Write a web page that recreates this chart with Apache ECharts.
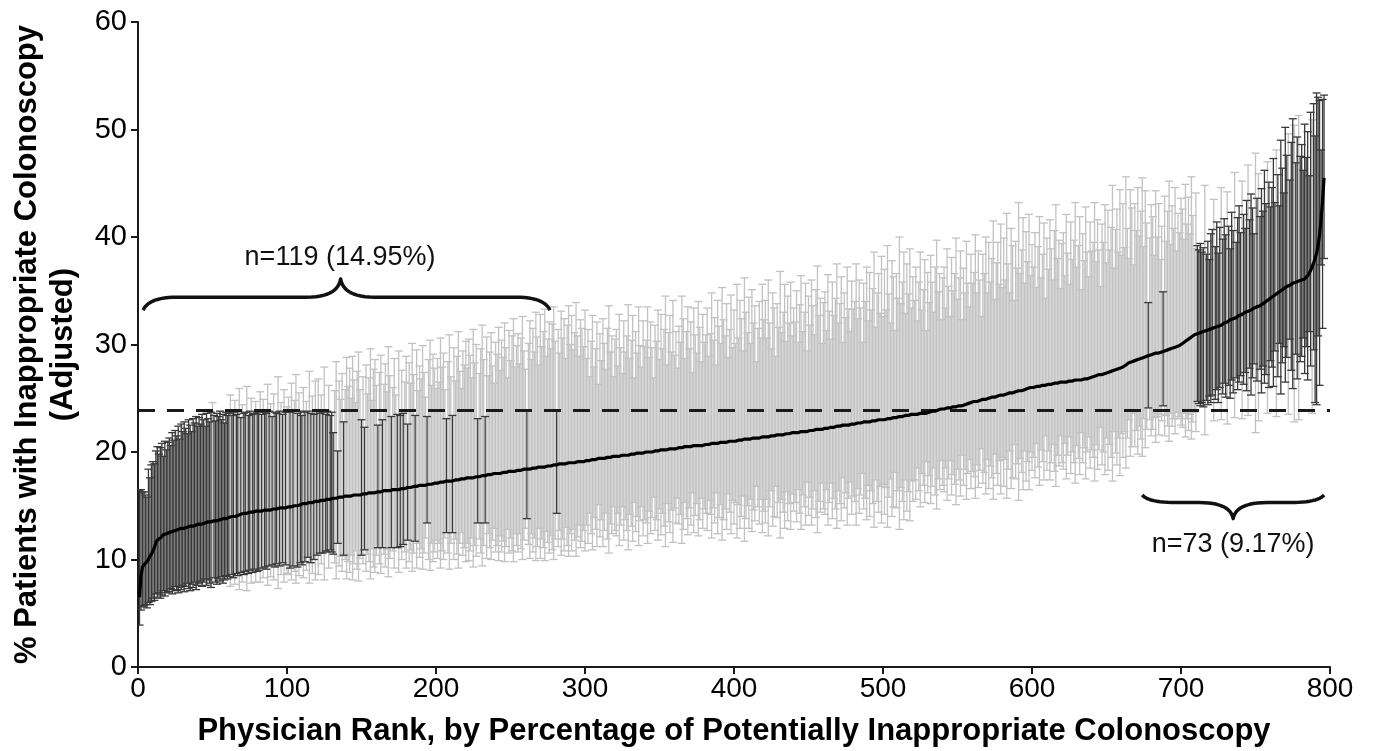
<!DOCTYPE html>
<html><head><meta charset="utf-8">
<script src="https://cdn.jsdelivr.net/npm/echarts@6.0.0/dist/echarts.min.js"></script>
<style>html,body{margin:0;padding:0;background:#fff}#c{width:1374px;height:751px}</style>
</head><body><div id="c"></div>
<script>
// Adjusted % of potentially inappropriate colonoscopy per physician, ordered by rank (1..796)
const estimate = [
6.5,8.5,9.3,9.5,9.6,9.8,10.0,10.3,10.5,10.8,11.1,11.6,11.8,11.9,12.0,12.1,12.3,12.3,12.4,12.5,
12.5,12.6,12.6,12.7,12.7,12.8,12.8,12.8,12.9,12.9,12.9,13.0,13.0,13.0,13.1,13.1,13.1,13.2,13.2,13.2,
13.3,13.3,13.3,13.4,13.4,13.4,13.5,13.5,13.5,13.6,13.6,13.6,13.6,13.7,13.7,13.7,13.8,13.8,13.8,13.9,
13.9,13.9,14.0,14.0,14.0,14.1,14.1,14.2,14.2,14.2,14.3,14.3,14.3,14.3,14.4,14.4,14.4,14.4,14.5,14.5,
14.5,14.5,14.5,14.5,14.6,14.6,14.6,14.6,14.6,14.7,14.7,14.7,14.7,14.7,14.8,14.8,14.8,14.8,14.8,14.8,
14.9,14.9,14.9,15.0,15.0,15.0,15.0,15.1,15.1,15.1,15.2,15.2,15.2,15.3,15.3,15.3,15.3,15.4,15.4,15.4,
15.4,15.5,15.5,15.5,15.5,15.6,15.6,15.6,15.6,15.6,15.7,15.7,15.7,15.7,15.8,15.8,15.8,15.8,15.9,15.9,
15.9,15.9,15.9,15.9,16.0,16.0,16.0,16.0,16.0,16.0,16.1,16.1,16.1,16.1,16.2,16.2,16.2,16.2,16.2,16.3,
16.3,16.3,16.3,16.3,16.4,16.4,16.4,16.4,16.4,16.5,16.5,16.5,16.5,16.5,16.5,16.5,16.6,16.6,16.6,16.6,
16.7,16.7,16.7,16.7,16.8,16.8,16.8,16.8,16.9,16.9,16.9,16.9,16.9,17.0,17.0,17.0,17.0,17.0,17.1,17.1,
17.1,17.1,17.2,17.2,17.2,17.2,17.3,17.3,17.3,17.3,17.3,17.4,17.4,17.4,17.4,17.5,17.5,17.5,17.5,17.5,
17.6,17.6,17.6,17.6,17.6,17.7,17.7,17.7,17.7,17.7,17.8,17.8,17.8,17.8,17.9,17.9,17.9,17.9,18.0,18.0,
18.0,18.0,18.0,18.1,18.1,18.1,18.1,18.1,18.2,18.2,18.2,18.2,18.2,18.3,18.3,18.3,18.3,18.3,18.4,18.4,
18.4,18.4,18.4,18.5,18.5,18.5,18.5,18.5,18.6,18.6,18.6,18.6,18.6,18.7,18.7,18.7,18.7,18.8,18.8,18.8,
18.8,18.8,18.9,18.9,18.9,18.9,18.9,19.0,19.0,19.0,19.0,19.0,19.0,19.1,19.1,19.1,19.1,19.1,19.1,19.2,
19.2,19.2,19.2,19.3,19.3,19.3,19.3,19.3,19.4,19.4,19.4,19.4,19.4,19.5,19.5,19.5,19.5,19.5,19.6,19.6,
19.6,19.6,19.6,19.6,19.7,19.7,19.7,19.7,19.7,19.8,19.8,19.8,19.8,19.8,19.9,19.9,19.9,19.9,19.9,19.9,
20.0,20.0,20.0,20.0,20.0,20.1,20.1,20.1,20.1,20.1,20.2,20.2,20.2,20.2,20.2,20.3,20.3,20.3,20.3,20.3,
20.3,20.4,20.4,20.4,20.4,20.4,20.5,20.5,20.5,20.5,20.5,20.5,20.6,20.6,20.6,20.6,20.6,20.6,20.6,20.7,
20.7,20.7,20.7,20.7,20.8,20.8,20.8,20.8,20.8,20.8,20.9,20.9,20.9,20.9,20.9,21.0,21.0,21.0,21.0,21.0,
21.0,21.1,21.1,21.1,21.1,21.1,21.2,21.2,21.2,21.2,21.2,21.3,21.3,21.3,21.3,21.3,21.3,21.4,21.4,21.4,
21.4,21.4,21.4,21.5,21.5,21.5,21.5,21.5,21.6,21.6,21.6,21.6,21.6,21.7,21.7,21.7,21.7,21.7,21.8,21.8,
21.8,21.8,21.8,21.8,21.9,21.9,21.9,21.9,21.9,22.0,22.0,22.0,22.0,22.0,22.1,22.1,22.1,22.1,22.1,22.1,
22.2,22.2,22.2,22.2,22.3,22.3,22.3,22.3,22.4,22.4,22.4,22.4,22.5,22.5,22.5,22.5,22.5,22.6,22.6,22.6,
22.6,22.6,22.7,22.7,22.7,22.7,22.8,22.8,22.8,22.8,22.8,22.9,22.9,22.9,22.9,22.9,23.0,23.0,23.0,23.0,
23.0,23.1,23.1,23.1,23.1,23.2,23.2,23.2,23.2,23.3,23.3,23.3,23.3,23.3,23.4,23.4,23.4,23.4,23.5,23.5,
23.5,23.5,23.5,23.5,23.6,23.6,23.6,23.6,23.6,23.7,23.7,23.7,23.8,23.8,23.8,23.9,23.9,23.9,24.0,24.0,
24.0,24.0,24.1,24.1,24.1,24.1,24.2,24.2,24.2,24.2,24.3,24.3,24.3,24.3,24.4,24.4,24.5,24.5,24.6,24.6,
24.7,24.7,24.7,24.8,24.8,24.8,24.9,24.9,24.9,25.0,25.0,25.0,25.1,25.1,25.1,25.2,25.2,25.2,25.3,25.3,
25.3,25.4,25.4,25.4,25.5,25.5,25.5,25.6,25.6,25.6,25.7,25.7,25.7,25.8,25.8,25.8,25.9,25.9,26.0,26.0,
26.0,26.0,26.1,26.1,26.1,26.1,26.2,26.2,26.2,26.2,26.3,26.3,26.3,26.3,26.4,26.4,26.4,26.4,26.5,26.5,
26.5,26.5,26.5,26.6,26.6,26.6,26.6,26.6,26.7,26.7,26.7,26.7,26.7,26.8,26.8,26.8,26.8,26.9,26.9,27.0,
27.0,27.0,27.1,27.1,27.2,27.2,27.2,27.3,27.3,27.4,27.4,27.5,27.5,27.6,27.6,27.7,27.7,27.8,27.8,27.9,
27.9,28.0,28.1,28.2,28.3,28.4,28.4,28.5,28.5,28.6,28.6,28.7,28.7,28.8,28.8,28.9,28.9,29.0,29.0,29.1,
29.1,29.1,29.2,29.2,29.2,29.3,29.3,29.4,29.4,29.5,29.5,29.6,29.6,29.7,29.7,29.8,29.8,29.9,29.9,30.0,
30.1,30.2,30.3,30.4,30.5,30.6,30.7,30.8,30.9,31.0,31.0,31.1,31.1,31.2,31.2,31.3,31.3,31.4,31.4,31.5,
31.5,31.6,31.6,31.7,31.7,31.8,31.8,31.9,32.0,32.0,32.1,32.2,32.3,32.3,32.4,32.5,32.5,32.6,32.7,32.8,
32.8,32.9,33.0,33.0,33.1,33.2,33.2,33.3,33.4,33.4,33.5,33.6,33.6,33.7,33.8,33.9,34.0,34.1,34.2,34.3,
34.4,34.5,34.6,34.7,34.8,34.9,35.0,35.1,35.2,35.3,35.4,35.5,35.5,35.6,35.7,35.8,35.8,35.9,35.9,36.0,
36.0,36.1,36.1,36.2,36.4,36.6,36.9,37.2,37.6,38.0,38.5,39.2,40.2,41.6,43.4,45.5
];
// Upper 95% confidence limits
const upper = [
16.4,16.5,16.2,16.3,16.0,15.8,18.4,17.6,18.8,19.1,18.9,20.1,20.5,19.8,20.4,20.8,19.6,21.0,20.2,20.9,
21.3,20.6,21.8,21.1,22.0,21.5,22.4,21.2,22.6,21.9,22.8,22.2,21.7,23.0,22.5,21.9,23.1,22.7,23.3,22.4,
23.2,22.6,23.5,23.0,22.4,23.6,23.1,22.8,23.7,24.6,23.4,22.9,23.6,23.3,23.8,23.0,23.5,22.7,23.7,23.4,
23.6,25.3,23.4,23.7,24.8,23.5,23.8,25.9,23.2,24.4,23.6,23.7,26.1,23.4,23.8,25.0,23.5,23.6,24.7,23.7,
23.8,25.6,23.5,24.9,23.7,23.6,26.3,23.8,24.5,23.3,25.4,23.7,23.6,27.0,23.8,24.6,23.5,25.8,23.7,24.2,
25.1,23.7,26.4,23.8,24.8,27.2,23.6,25.5,23.8,23.4,26.0,23.7,24.7,23.8,27.5,23.6,25.2,23.5,26.6,23.8,
26.8,23.6,25.3,23.7,27.9,23.5,23.8,26.2,23.4,23.7,21.8,25.7,28.4,20.1,26.6,24.9,27.3,22.8,25.8,28.8,
26.1,27.8,25.0,28.9,26.7,24.6,27.5,29.3,25.8,23.0,27.0,22.3,28.1,25.4,26.9,29.6,24.8,27.7,28.6,26.2,
22.5,27.4,29.0,23.0,26.3,28.2,25.6,29.8,27.1,23.3,26.0,28.7,25.3,23.5,29.4,23.4,27.6,23.6,26.5,28.9,
22.6,28.3,26.4,30.1,27.2,23.4,29.5,25.7,28.0,26.8,29.9,27.4,25.1,23.3,28.6,30.4,26.2,29.1,27.8,25.9,
28.7,26.5,30.6,27.9,29.2,25.8,23.1,28.4,30.9,27.0,23.4,29.7,26.6,28.9,31.2,27.5,25.9,29.4,28.1,30.3,
27.8,30.5,29.0,26.9,31.4,28.3,30.0,23.1,27.3,29.6,31.8,28.6,23.3,30.7,27.1,29.3,31.1,28.0,26.4,30.2,
29.1,31.6,27.6,30.4,28.8,32.0,29.7,26.9,31.3,28.5,30.8,32.4,27.9,29.9,31.0,28.2,30.6,32.6,29.4,27.7,
23.8,30.1,32.2,28.6,31.5,29.3,33.0,30.7,28.1,32.8,29.8,31.2,33.3,28.9,30.5,32.1,29.6,31.9,33.5,30.3,
23.8,31.4,29.2,33.1,30.6,32.4,28.7,31.8,33.6,30.0,32.7,29.5,31.1,33.9,30.8,28.9,32.3,31.5,29.8,33.2,
28.7,31.4,27.0,30.3,32.7,27.9,29.6,32.1,26.3,31.0,28.5,32.4,30.1,27.7,31.5,33.6,29.3,30.8,27.0,30.5,
31.4,28.0,32.8,29.7,27.3,32.2,29.3,30.8,33.7,28.7,30.4,32.7,26.9,31.2,29.2,33.5,29.9,27.9,32.2,29.8,
30.4,33.5,28.8,32.1,29.7,26.9,31.8,30.3,33.2,28.6,32.8,29.6,31.4,34.5,28.1,31.1,32.7,29.3,34.1,29.0,
31.2,27.8,31.7,30.2,34.5,32.4,28.7,31.2,33.5,29.6,32.1,27.4,33.4,30.9,29.2,34.0,31.6,28.4,32.8,30.2,
30.9,33.4,28.9,31.0,34.8,30.4,32.5,28.1,34.1,31.7,30.1,35.3,32.3,30.8,33.8,28.8,31.4,34.6,29.7,33.2,
30.1,35.6,30.6,34.1,32.4,29.4,36.2,33.0,31.1,34.4,30.1,35.1,32.0,33.6,28.4,31.5,34.0,30.6,35.6,32.3,
34.1,30.6,36.0,32.0,29.6,34.8,33.4,28.9,33.8,31.6,36.8,31.1,33.0,35.6,30.3,34.5,32.0,35.8,30.8,33.4,
32.1,35.0,30.2,33.7,36.4,31.2,33.0,35.7,29.4,34.5,31.8,36.0,33.6,30.9,35.1,37.3,32.7,34.3,30.1,33.9,
34.9,31.3,36.5,33.1,30.5,35.8,32.7,34.3,37.5,32.0,33.8,36.3,30.2,34.8,32.5,37.2,33.3,31.2,35.9,33.3,
34.0,37.5,32.4,36.0,33.4,30.2,35.7,34.0,37.2,32.2,36.7,33.2,35.2,38.6,31.6,34.8,36.6,32.9,38.2,32.6,
37.0,33.2,39.2,34.7,32.0,37.8,36.3,31.3,36.6,34.3,40.0,33.8,35.8,38.6,32.9,37.5,34.7,38.9,33.4,36.3,
34.1,37.2,32.2,35.8,38.6,33.2,35.1,37.9,31.3,36.7,33.9,38.3,35.8,33.0,37.2,39.7,34.9,36.6,32.3,36.2,
37.2,33.4,38.9,35.4,32.6,38.1,35.0,36.6,39.9,34.2,36.2,38.7,32.3,37.1,34.8,39.6,35.7,33.5,38.4,35.7,
36.7,40.2,34.8,38.7,36.0,32.6,38.4,36.6,40.0,34.8,39.5,35.8,38.0,41.5,34.2,37.6,39.5,35.6,41.2,35.3,
39.9,36.0,42.2,37.5,34.8,40.8,39.2,34.1,39.6,37.1,43.2,36.6,38.8,41.8,35.7,40.5,37.7,42.1,36.4,39.3,
37.2,40.4,35.3,39.1,41.9,36.2,38.4,41.3,34.3,39.9,37.0,41.6,38.9,36.0,40.6,43.0,38.0,39.7,35.2,39.4,
40.4,36.4,42.1,38.5,35.6,41.4,37.9,39.7,43.2,37.2,39.2,41.9,35.1,40.3,37.8,42.8,38.6,36.3,41.4,38.7,
39.5,43.2,37.7,41.6,38.8,35.4,41.2,39.5,43.0,37.6,42.5,38.8,40.9,44.8,37.1,40.7,42.6,38.6,44.4,38.3,
43.1,39.0,45.6,40.8,38.0,44.4,42.7,37.4,43.1,40.6,44.6,40.1,42.4,45.5,39.1,44.3,41.3,33.9,39.9,43.0,
41.9,38.3,44.3,40.0,43.1,37.9,41.0,34.9,43.8,39.6,42.4,45.2,39.3,42.9,40.8,44.6,38.7,42.2,40.4,43.6,
42.6,39.8,44.9,41.2,43.7,40.3,45.6,42.0,38.9,44.1,39.2,38.8,39.4,38.6,39.0,44.8,38.4,39.6,37.9,40.3,
40.7,43.5,39.1,41.4,38.5,40.9,44.6,39.8,41.7,40.2,44.2,41.0,38.9,42.3,40.6,46.0,39.5,41.8,42.9,40.4,
45.2,42.1,40.8,43.4,46.7,41.6,44.0,42.7,40.3,47.8,43.6,45.9,41.9,44.5,42.4,46.2,43.1,47.0,45.1,42.8,
44.6,47.3,43.2,48.1,45.8,42.9,49.0,46.4,44.1,50.2,47.6,49.6,45.3,48.8,51.0,50.4,46.9,49.3,51.3,47.5,
48.6,46.2,50.5,47.4,49.8,45.7,51.6,50.9,52.4,49.4,53.4,53.0,52.7,48.1,52.8,53.2
];
// Lower 95% confidence limits
const lower = [
3.9,5.3,5.6,5.7,5.8,5.5,6.0,5.8,6.1,6.4,6.2,6.8,6.5,6.9,6.4,6.7,7.1,6.6,6.9,7.0,
7.0,7.3,6.8,7.2,7.5,7.1,6.9,7.4,7.2,7.6,7.0,7.5,7.8,7.3,7.1,7.7,7.4,7.9,7.2,7.6,
7.8,8.0,7.5,7.9,8.2,7.6,8.1,7.8,7.4,8.0,8.3,7.9,7.7,8.2,8.0,8.4,7.8,8.1,8.5,8.2,
8.4,7.5,8.6,8.3,7.7,8.7,8.5,7.2,8.8,7.9,8.6,8.9,7.1,8.7,9.0,7.8,8.8,9.1,7.9,8.9,
9.0,7.9,9.2,8.3,9.3,9.1,7.6,9.4,8.4,9.5,8.1,9.3,9.6,7.3,9.4,8.6,9.7,7.9,9.5,8.7,
8.6,9.2,8.1,9.4,8.9,7.8,9.3,8.5,9.7,9.5,8.3,9.8,9.0,10.2,7.8,9.7,8.7,10.0,8.1,10.4,
8.6,10.6,9.6,10.6,8.1,10.8,10.7,9.2,10.9,10.7,10.5,9.7,8.2,11.5,9.4,10.3,8.9,10.4,10.0,8.2,
9.8,8.8,10.4,8.1,9.6,10.8,9.1,8.0,10.1,10.4,9.6,10.9,8.9,10.5,9.8,8.2,11.0,9.3,8.8,10.4,
11.1,9.6,8.7,11.1,10.5,9.3,10.9,8.4,10.1,11.1,10.8,9.2,11.2,11.1,8.8,11.2,10.0,11.4,10.7,9.2,
11.8,9.8,10.9,8.9,10.6,11.7,9.2,11.5,10.2,11.0,9.1,10.6,12.0,13.4,10.0,9.0,11.5,9.8,10.7,11.8,
10.1,11.5,9.2,10.8,10.0,12.0,12.5,10.6,9.1,11.5,12.5,10.0,11.9,10.5,9.2,11.5,12.5,10.4,11.1,9.8,
11.5,9.9,10.8,12.0,9.3,11.3,10.3,13.4,11.9,10.6,9.4,11.3,13.4,10.1,12.4,11.1,10.0,11.8,12.9,10.7,
11.3,9.9,12.2,10.7,11.7,9.8,11.2,12.8,10.6,12.0,10.8,9.8,12.4,11.3,10.7,12.4,11.0,10.0,11.8,12.9,
13.8,11.4,10.1,12.4,10.7,12.0,9.9,11.2,12.9,10.1,11.9,11.1,9.9,12.6,11.6,10.6,12.2,10.9,10.0,11.9,
14.3,11.2,12.7,10.4,11.9,10.8,13.0,11.3,10.3,12.4,10.8,12.8,11.8,10.3,12.1,13.2,11.1,11.7,12.7,10.8,
13.2,11.5,14.3,12.4,10.9,13.9,12.8,11.2,15.1,12.1,13.7,11.2,12.7,14.3,11.9,10.6,13.3,12.4,14.9,12.7,
12.2,14.3,11.3,13.2,14.9,11.8,13.7,12.7,10.9,14.2,13.1,11.7,15.3,12.6,14.0,11.3,13.6,14.9,12.2,13.7,
13.4,11.5,14.5,12.4,13.9,15.8,12.7,13.7,11.8,14.7,12.3,14.3,13.1,11.2,15.2,13.5,12.5,14.6,11.6,14.8,
13.4,15.7,13.3,14.2,11.5,12.8,15.3,13.8,12.3,14.8,13.2,16.2,12.5,14.1,15.2,12.2,13.7,15.7,12.9,14.7,
14.3,12.7,15.5,14.2,12.0,14.8,13.4,16.2,12.4,13.9,15.1,11.8,13.7,14.7,12.8,16.1,14.4,12.4,15.5,13.3,
15.3,12.0,15.1,12.9,14.0,15.9,11.7,13.8,15.0,12.9,15.6,12.6,14.6,13.6,16.8,14.9,13.3,15.6,12.5,14.5,
13.4,15.6,12.2,14.9,16.4,13.1,14.0,16.8,13.9,15.3,12.0,15.6,14.4,12.9,16.3,13.6,15.2,12.8,16.1,14.5,
15.3,13.5,16.5,14.3,12.8,16.0,14.9,13.2,17.2,14.1,15.8,13.2,14.7,16.4,13.9,12.5,15.4,14.4,17.1,14.7,
14.2,16.5,13.2,15.3,17.1,13.8,15.7,14.7,12.9,16.4,15.2,13.6,17.6,14.8,16.2,13.2,15.7,17.2,14.2,15.9,
15.4,13.2,16.6,14.3,16.0,18.0,14.7,15.7,13.7,16.9,14.0,16.4,15.2,13.0,17.4,15.4,14.4,16.8,13.4,17.0,
14.2,16.7,13.0,15.8,17.5,14.0,14.9,18.1,14.8,16.4,12.8,16.7,15.4,13.7,17.4,14.5,16.3,13.6,17.3,15.4,
17.4,15.6,18.5,16.4,14.9,18.0,16.9,15.3,19.1,16.2,17.8,15.2,16.8,18.5,16.0,14.7,17.5,16.5,19.2,16.9,
16.3,18.5,15.5,17.5,19.2,16.0,17.9,17.0,15.1,18.4,17.4,15.9,19.7,16.9,18.4,15.6,18.0,19.3,16.6,18.2,
17.7,15.7,18.8,16.7,18.3,20.3,17.1,18.1,16.1,19.3,16.6,18.7,17.6,15.6,19.8,18.0,16.9,19.2,16.1,19.5,
16.8,19.3,15.7,18.4,20.1,16.6,17.6,20.7,17.5,18.9,15.5,19.4,18.1,16.5,20.1,17.3,19.1,16.5,20.0,18.3,
19.5,17.6,20.8,18.6,16.9,20.2,19.1,17.4,21.5,18.3,20.1,17.4,19.0,20.7,18.2,16.8,19.7,18.7,21.5,19.0,
18.4,20.8,17.5,19.7,21.4,18.0,20.0,19.0,17.1,20.6,19.4,17.9,21.8,19.0,20.4,17.5,20.0,21.4,18.5,20.2,
19.5,17.3,20.7,18.4,20.2,22.3,18.8,20.0,17.9,21.3,18.3,20.7,19.5,17.3,21.9,19.9,18.8,21.3,17.8,21.7,
19.5,21.9,18.5,21.3,23.0,19.6,20.5,23.6,20.5,22.0,19.8,22.4,21.2,19.6,23.1,20.4,22.1,24.1,23.0,21.5,
22.1,23.2,20.9,23.3,21.6,23.5,22.9,24.3,21.5,23.4,22.4,21.0,23.6,22.4,23.1,21.7,23.7,23.1,23.3,22.5,
22.3,23.6,21.4,23.1,22.0,23.5,21.2,22.8,23.7,21.9,24.7,24.5,24.3,24.6,24.2,21.6,24.8,24.4,25.2,24.6,
25.3,22.9,24.9,25.8,24.6,26.0,23.0,25.4,26.4,25.1,22.6,26.2,25.0,26.7,25.5,23.2,26.9,25.8,26.5,27.1,
23.1,26.3,27.4,25.7,23.4,27.8,25.3,26.9,28.2,21.8,26.6,22.9,27.7,25.5,28.0,26.4,27.2,23.6,26.0,28.5,
27.9,26.1,29.4,23.3,27.0,30.1,25.4,28.3,29.8,26.5,28.8,23.5,30.5,27.6,25.9,22.8,29.1,26.8,23.0,28.4,
28.9,30.6,27.3,29.8,26.7,31.2,28.0,23.6,29.5,24.6,24.4,30.8,26.2,37.4,31.5,38.0
];
const overallAverage = 23.9;
const lowGroupLabel = 'n=119 (14.95%)';
const highGroupLabel = 'n=73 (9.17%)';

const N = Math.min(estimate.length, upper.length, lower.length);
const grayBars = [], darkBars = [], linePts = [];
for (let i = 0; i < N; i++) {
  const r = i + 1;
  const item = [r, lower[i], upper[i]];
  if (upper[i] < overallAverage || lower[i] > overallAverage) darkBars.push(item); else grayBars.push(item);
  linePts.push([r, estimate[i]]);
}

const FONT = '"Liberation Sans", Arial, Helvetica, sans-serif';

function renderBar(params, api) {
  const x = api.value(0), lo = api.value(1), hi = api.value(2);
  const a = api.coord([x, lo]), b = api.coord([x, hi]);
  const half = 4;
  const st = { stroke: api.visual('color'), lineWidth: 1.3 };
  return { type: 'group', children: [
    { type: 'line', shape: { x1: a[0], y1: a[1], x2: b[0], y2: b[1] }, style: st },
    { type: 'line', shape: { x1: b[0] - half, y1: b[1], x2: b[0] + half, y2: b[1] }, style: st },
    { type: 'line', shape: { x1: a[0] - half, y1: a[1], x2: a[0] + half, y2: a[1] }, style: st }
  ]};
}

const chart = echarts.init(document.getElementById('c'), null, { renderer: 'canvas' });
chart.setOption({
  animation: false,
  backgroundColor: '#fff',
  grid: { left: 138, right: 44, top: 22, bottom: 84, containLabel: false, outerBoundsMode: 'none' },
  xAxis: {
    type: 'value', min: 0, max: 800, interval: 100,
    axisLine: { lineStyle: { color: '#1a1a1a', width: 2 } },
    axisTick: { length: 7, lineStyle: { color: '#1a1a1a', width: 2 } },
    axisLabel: { color: '#000', fontSize: 28, fontFamily: FONT, margin: 8 },
    splitLine: { show: false },
    name: 'Physician Rank, by Percentage of Potentially Inappropriate Colonoscopy',
    nameLocation: 'middle', nameGap: 49,
    nameTextStyle: { color: '#000', fontSize: 31, fontWeight: 'bold', fontFamily: FONT }
  },
  yAxis: {
    type: 'value', min: 0, max: 60, interval: 10,
    axisLine: { show: true, lineStyle: { color: '#1a1a1a', width: 2 } },
    axisTick: { show: true, length: 7, lineStyle: { color: '#1a1a1a', width: 2 } },
    axisLabel: { color: '#000', fontSize: 29, fontFamily: FONT, margin: 11 },
    splitLine: { show: false },
    name: '% Patients with Inappropriate Colonoscopy\n(Adjusted)',
    nameLocation: 'middle', nameRotate: 90, nameGap: 57,
    nameTextStyle: { color: '#000', fontSize: 31, fontWeight: 'bold', fontFamily: FONT, lineHeight: 36 }
  },
  series: [
    { type: 'custom', name: 'ns', renderItem: renderBar, data: grayBars, encode: { x: 0, y: [1, 2] }, itemStyle: { color: '#c2c2c2' }, z: 2, clip: true },
    { type: 'custom', name: 'sig', renderItem: renderBar, data: darkBars, encode: { x: 0, y: [1, 2] }, itemStyle: { color: '#383838' }, z: 3, clip: true },
    { type: 'line', name: 'est', data: linePts, showSymbol: false, symbol: 'none', lineStyle: { color: '#000', width: 3.2 }, z: 5,
      markLine: { silent: true, symbol: 'none', label: { show: false },
        lineStyle: { color: '#1a1a1a', width: 3, type: [17, 12] },
        data: [{ yAxis: overallAverage }] } }
  ]
});

function px(r, v) { return chart.convertToPixel({ gridIndex: 0 }, [r, v]); }
function quad(p0, p1, p2, n, out) {
  for (let k = 1; k <= n; k++) {
    const t = k / n, u = 1 - t;
    out.push([u * u * p0[0] + 2 * u * t * p1[0] + t * t * p2[0], u * u * p0[1] + 2 * u * t * p1[1] + t * t * p2[1]]);
  }
}
function bracePoints(xl, xm, xr, yEnd, yMid, yTip) {
  const c = 34, pts = [[xl, yEnd]];
  quad([xl, yEnd], [xl + 6, yMid], [xl + c, yMid], 12, pts);
  pts.push([xm - c, yMid]);
  quad([xm - c, yMid], [xm - 3, yMid], [xm, yTip], 12, pts);
  quad([xm, yTip], [xm + 3, yMid], [xm + c, yMid], 12, pts);
  pts.push([xr - c, yMid]);
  quad([xr - c, yMid], [xr - 6, yMid], [xr, yEnd], 12, pts);
  return pts;
}
const tL = px(3.4, 33.2), tM = px(136, 34.4), tT = px(136, 36.1), tR = px(276.5, 33.2);
const bL = px(674, 16.0), bM = px(735, 15.3), bT = px(735, 13.8), bR = px(796, 16.0);
const t1 = px(135.6, 38.1), t2 = px(735, 11.4);
chart.setOption({
  graphic: [
    { type: 'polyline', shape: { points: bracePoints(tL[0], tM[0], tR[0], tL[1], tM[1], tT[1]) }, style: { fill: null, stroke: '#111', lineWidth: 3.5, lineJoin: 'round' }, z: 10 },
    { type: 'polyline', shape: { points: bracePoints(bL[0], bM[0], bR[0], bL[1], bM[1], bT[1]) }, style: { fill: null, stroke: '#111', lineWidth: 3.5, lineJoin: 'round' }, z: 10 },
    { type: 'text', x: t1[0], y: t1[1], style: { text: lowGroupLabel, fontSize: 27, fontFamily: FONT, fill: '#111', align: 'center', verticalAlign: 'middle' }, z: 10 },
    { type: 'text', x: t2[0], y: t2[1], style: { text: highGroupLabel, fontSize: 27, fontFamily: FONT, fill: '#111', align: 'center', verticalAlign: 'middle' }, z: 10 }
  ]
});
</script>
</body></html>
